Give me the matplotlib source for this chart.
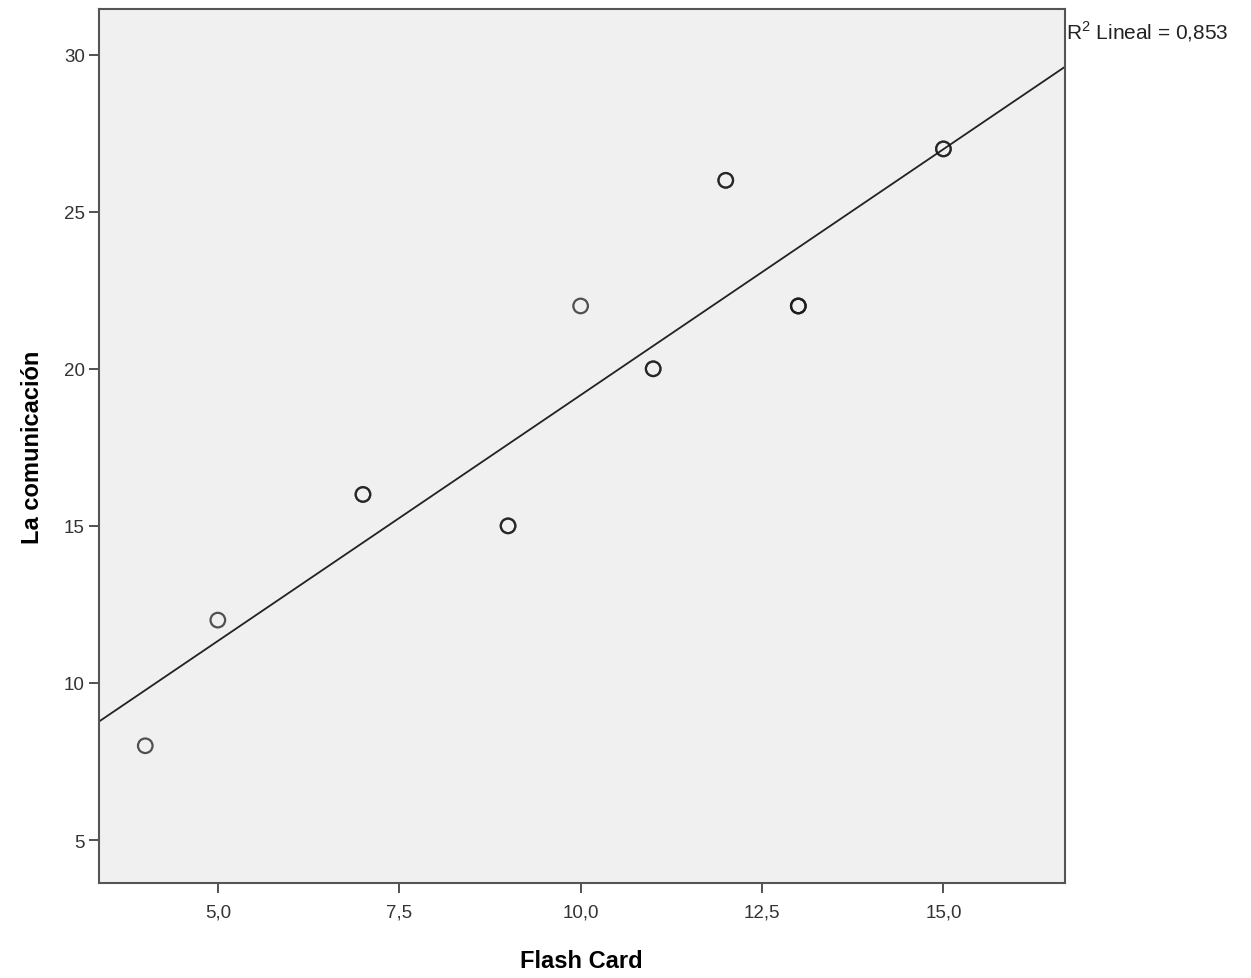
import numpy as np
import matplotlib.pyplot as plt

plt.rcParams['font.family'] = ['Liberation Sans', 'DejaVu Sans']
plt.rcParams['mathtext.fontset'] = 'custom'
plt.rcParams['mathtext.rm'] = 'Liberation Sans'

# scores; darker rings are repeated cases
flash_card = [4, 5, 7, 9, 10, 11, 12, 13, 15]
comunicacion = [8, 12, 16, 15, 22, 20, 26, 22, 27]
counts = [1, 1, 2, 2, 1, 2, 2, 3, 2]

x_ticks = [5.0, 7.5, 10.0, 12.5, 15.0]
y_ticks = [5, 10, 15, 20, 25, 30]
r2_label = r"R$^\mathrm{2}$ Lineal = 0,853"


def main():
    x = np.repeat(flash_card, counts)
    y = np.repeat(comunicacion, counts)

    fig = plt.figure(figsize=(12.51, 9.79), dpi=100)
    ax = fig.add_axes([0.079, 0.097, 0.772, 0.893])
    ax.set_facecolor('#f0f0f0')

    xlim = (3.36, 16.67)
    ax.set_xlim(*xlim)
    ax.set_ylim(3.63, 31.46)

    # linear fit over the whole x range
    slope, intercept = np.polyfit(x, y, 1)
    xs = np.array(xlim)
    ax.plot(xs, intercept + slope * xs, color='#222222', lw=1.3, zorder=2)

    ax.scatter(x, y, s=110, facecolors='none',
               edgecolors=(0.1, 0.1, 0.1, 0.75), linewidths=1.6, zorder=3)

    ax.set_xticks(x_ticks)
    ax.set_xticklabels([f"{t:.1f}".replace('.', ',') for t in x_ticks])
    ax.set_yticks(y_ticks)
    ax.tick_params(axis='both', direction='out', length=7, width=1.2,
                   color='#333333', labelsize=13.5, labelcolor='#333333')
    ax.tick_params(axis='x', pad=8)
    ax.tick_params(axis='y', pad=3)

    for sp in ax.spines.values():
        sp.set_color('#555555')
        sp.set_linewidth(1.5)

    ax.set_xlabel("Flash Card", fontsize=17, fontweight='bold', labelpad=20)
    ax.set_ylabel("La comunicación", fontsize=17, fontweight='bold',
                  labelpad=14)

    fig.text(0.852, 0.968, r2_label, fontsize=15, color='#222222',
             ha='left', va='center')

    fig.savefig("out.png", dpi=100, facecolor='white')


if __name__ == '__main__':
    main()
